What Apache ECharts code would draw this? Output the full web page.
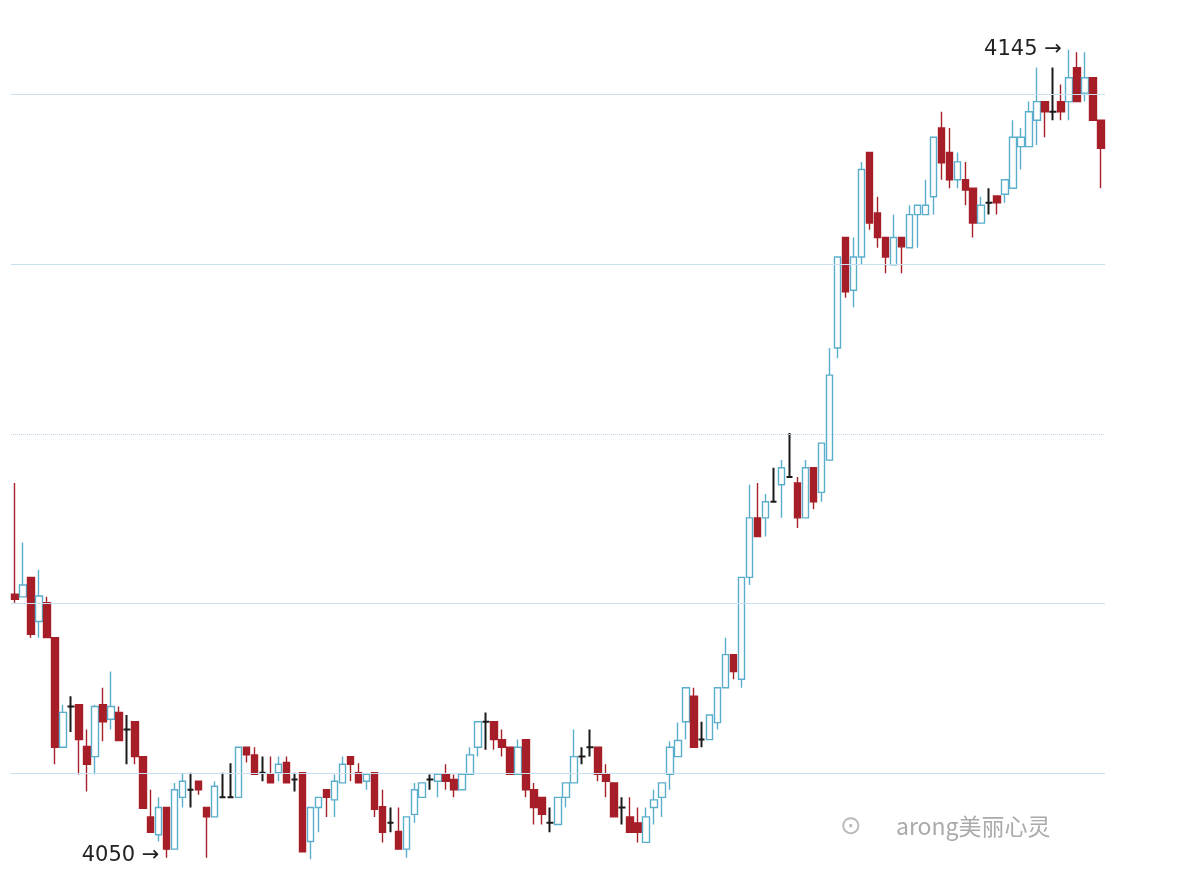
<!DOCTYPE html>
<html><head><meta charset="utf-8">
<script src="https://cdn.jsdelivr.net/npm/echarts@6/dist/echarts.min.js"></script>
<style>html,body{margin:0;padding:0;background:#fff}#c{width:1196px;height:896px}</style>
</head><body><div id="c"></div>
<script>
// [open, close, low, high]
const candles = [
[4081.1,4080.5,4080.1,4094.2],[4080.8,4082.2,4080.8,4087.2],[4083.1,4076.4,4076.0,4083.1],[4077.9,4080.9,4076.0,4084.0],
[4080.1,4076.0,4076.0,4080.8],[4076.0,4063.1,4061.1,4076.0],[4063.1,4067.2,4063.1,4068.1],[4067.9,4067.9,4064.9,4069.1],
[4068.1,4064.0,4059.9,4068.1],[4063.2,4061.1,4057.9,4065.2],[4062.0,4067.9,4059.9,4068.1],[4068.1,4066.1,4063.8,4070.1],
[4066.4,4067.9,4065.2,4072.0],[4067.2,4063.9,4063.9,4067.9],[4065.2,4065.2,4061.1,4066.9],[4066.1,4062.0,4061.1,4066.1],
[4062.0,4055.9,4055.9,4062.0],[4054.9,4053.1,4053.1,4058.1],[4052.8,4056.0,4052.0,4057.2],[4056.0,4051.1,4050.1,4056.0],
[4051.1,4058.1,4051.1,4058.9],[4057.2,4059.1,4056.0,4060.1],[4058.1,4058.1,4056.0,4060.1],[4059.1,4058.1,4057.5,4059.1],
[4056.0,4054.9,4050.1,4056.0],[4054.9,4058.5,4054.9,4059.1],[4057.2,4057.2,4057.2,4060.1],[4057.2,4057.2,4057.2,4061.2],
[4057.2,4063.1,4057.2,4063.1],[4063.1,4062.2,4061.3,4063.1],[4062.2,4059.9,4059.9,4063.1],[4060.1,4060.1,4059.1,4062.0],
[4059.9,4058.9,4058.9,4062.0],[4060.1,4061.1,4059.1,4062.0],[4061.3,4058.9,4058.9,4062.0],[4059.3,4059.3,4057.9,4060.1],
[4060.1,4050.8,4050.8,4060.1],[4052.0,4056.0,4049.9,4056.0],[4056.0,4057.2,4053.1,4057.2],[4058.1,4057.2,4054.9,4058.1],
[4056.9,4059.1,4054.9,4059.9],[4058.9,4061.1,4058.9,4062.0],[4062.0,4061.1,4059.1,4062.0],[4060.1,4058.9,4058.9,4061.2],
[4059.1,4059.9,4058.1,4059.9],[4060.1,4055.8,4054.9,4060.1],[4056.1,4053.1,4051.9,4058.1],[4054.2,4054.2,4053.1,4056.0],
[4053.2,4051.1,4051.1,4056.0],[4051.1,4054.9,4050.1,4054.9],[4055.2,4058.1,4054.2,4058.9],[4057.2,4058.9,4057.2,4058.9],
[4059.3,4059.3,4058.1,4059.9],[4059.1,4059.9,4057.2,4059.9],[4059.9,4059.1,4058.1,4061.1],[4059.3,4058.1,4057.2,4059.9],
[4058.1,4059.9,4058.1,4059.9],[4059.9,4062.2,4059.9,4063.1],[4063.1,4066.1,4062.0,4066.1],[4066.1,4066.1,4062.8,4067.2],
[4066.1,4064.0,4062.8,4066.1],[4064.0,4063.1,4062.0,4065.2],[4063.1,4059.9,4059.9,4063.1],[4059.9,4063.1,4059.9,4064.0],
[4064.0,4058.1,4057.2,4064.0],[4058.1,4056.0,4054.0,4058.9],[4057.2,4055.2,4054.0,4057.2],[4054.2,4054.2,4053.1,4056.0],
[4054.0,4057.2,4054.0,4057.2],[4057.2,4058.9,4056.0,4058.9],[4058.9,4062.0,4058.9,4065.2],[4062.0,4062.0,4061.1,4063.1],
[4063.1,4063.1,4062.0,4065.2],[4063.1,4059.9,4059.1,4063.1],[4059.9,4059.1,4057.2,4061.1],[4058.9,4054.9,4054.9,4058.9],
[4056.0,4056.0,4054.0,4057.2],[4054.9,4053.1,4053.1,4057.2],[4054.2,4053.1,4051.9,4056.0],[4051.9,4054.9,4051.9,4056.0],
[4056.0,4056.9,4054.0,4058.1],[4057.2,4058.9,4054.9,4058.9],[4059.9,4063.1,4058.1,4063.8],[4062.0,4063.9,4062.0,4066.0],
[4066.1,4070.1,4064.0,4070.1],[4069.1,4063.1,4063.1,4070.1],[4064.0,4064.0,4063.1,4066.1],[4064.0,4066.9,4064.0,4066.9],
[4066.0,4070.1,4065.2,4070.1],[4070.1,4074.0,4070.1,4076.0],[4074.0,4072.0,4071.1,4074.0],[4071.1,4083.1,4070.1,4083.1],
[4083.1,4090.1,4082.2,4094.0],[4090.1,4087.9,4087.9,4094.2],[4090.1,4092.0,4087.9,4092.9],[4092.0,4092.0,4092.0,4096.0],
[4094.0,4096.0,4090.1,4096.9],[4094.9,4094.9,4094.9,4100.1],[4094.2,4090.1,4088.9,4094.9],[4090.1,4096.0,4090.1,4096.9],
[4096.0,4092.0,4091.1,4096.0],[4093.1,4098.9,4092.0,4098.9],[4096.9,4106.9,4096.9,4110.1],[4110.1,4120.8,4108.9,4120.8],
[4123.1,4116.7,4116.0,4123.1],[4116.9,4120.8,4114.9,4123.1],[4120.8,4131.1,4119.9,4132.0],[4133.1,4124.8,4124.0,4133.1],
[4126.0,4123.1,4121.9,4127.9],[4123.1,4120.8,4118.9,4123.1],[4119.9,4123.1,4119.9,4125.8],[4123.1,4122.0,4118.9,4123.1],
[4121.9,4125.8,4121.9,4126.9],[4125.8,4126.9,4121.9,4126.9],[4125.8,4126.9,4125.8,4129.9],[4127.9,4134.9,4125.8,4134.9],
[4136.0,4131.9,4129.9,4137.9],[4133.1,4129.9,4128.9,4136.0],[4129.9,4132.0,4128.9,4133.1],[4129.9,4128.7,4126.9,4132.0],
[4128.9,4124.8,4123.1,4128.9],[4124.8,4126.9,4124.8,4127.9],[4127.2,4127.2,4125.8,4128.9],[4128.0,4127.2,4125.8,4128.0],
[4128.2,4129.9,4127.2,4129.9],[4128.9,4134.9,4128.9,4136.9],[4133.8,4134.9,4131.1,4136.0],[4133.8,4137.9,4133.8,4139.1],
[4136.9,4139.1,4134.0,4143.1],[4139.1,4137.9,4134.9,4139.1],[4137.9,4137.9,4136.9,4143.1],[4139.1,4137.9,4136.9,4141.1],
[4139.1,4141.9,4136.9,4145.2],[4143.1,4139.1,4139.1,4144.9],[4140.1,4141.9,4139.1,4144.9],[4141.9,4136.9,4136.9,4141.9],
[4136.9,4133.6,4128.9,4136.9]
];
const categories = candles.map((_, i) => 'D' + (i + 1));
const gridLevels = [4060, 4080, 4100, 4120, 4140];
const lowLabel = '4050', highLabel = '4145';
const lowIndex = 19, highIndex = 132;

const data = candles.map(d => d[0] === d[1]
  ? { value: d, itemStyle: { color: '#1a1a1a', color0: '#1a1a1a', borderColor: '#1a1a1a', borderColor0: '#1a1a1a', borderWidth: 2 } }
  : d);

const chart = echarts.init(document.getElementById('c'));
chart.setOption({
  animation: false,
  backgroundColor: '#fff',
  grid: { left: 11, right: 91, top: 0.5, bottom: 3.5 },
  xAxis: { type: 'category', data: categories, show: false, boundaryGap: true },
  yAxis: { type: 'value', min: 4046, max: 4151, show: false, splitLine: { show: false } },
  series: [{
    type: 'candlestick', data: data, barWidth: 7,
    itemStyle: { color: '#ffffff', color0: '#a61e28', borderColor: '#5aaecb', borderColor0: '#a61e28', borderWidth: 1.4 },
    markLine: {
      silent: true, symbol: 'none', label: { show: false },
      lineStyle: { color: '#c8dff0', width: 1, type: 'solid' },
      data: gridLevels.map(v => ({ yAxis: v, lineStyle: v === 4100 ? { type: 'dotted', color: '#c2d8e6' } : {} }))
    }
  }]
});
const pLow = chart.convertToPixel({ seriesIndex: 0 }, [lowIndex, candles[lowIndex][2]]);
const pHigh = chart.convertToPixel({ seriesIndex: 0 }, [highIndex, candles[highIndex][3]]);
chart.setOption({
  graphic: [
    { type: 'text', left: pLow[0] - 85, top: pLow[1] - 13, style: { text: lowLabel + ' →', font: '21px "DejaVu Sans"', fill: '#222' } },
    { type: 'text', left: pHigh[0] - 85, top: pHigh[1] - 11, style: { text: highLabel + ' →', font: '21px "DejaVu Sans"', fill: '#222' } },
    { type: 'text', left: 840, top: 814, style: { text: '⊙', font: '26px "DejaVu Sans"', fill: '#bbb' } },
    { type: 'text', left: 896, top: 815, style: { text: 'arong美丽心灵', font: '23px "Noto Sans CJK SC"', fill: '#aaaaaa' } }
  ]
});
</script></body></html>
